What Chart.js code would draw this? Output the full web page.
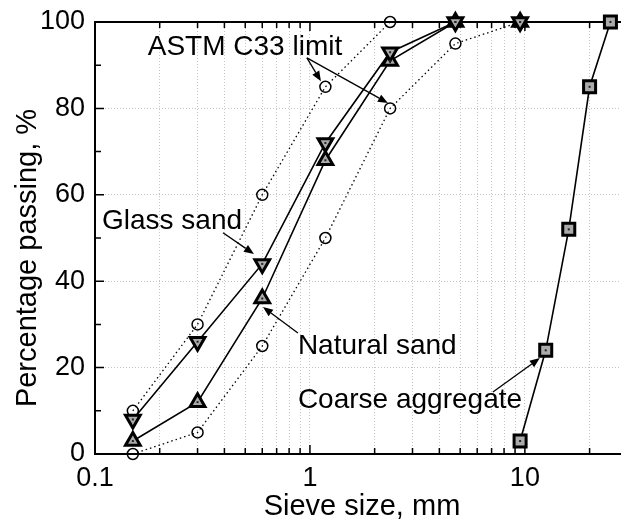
<!DOCTYPE html>
<html>
<head>
<meta charset="utf-8">
<script src="https://cdn.jsdelivr.net/npm/chart.js@4.4.1/dist/chart.umd.min.js"></script>
<style>
  html, body { margin: 0; padding: 0; background: #fff; }
  #wrap { width: 621px; height: 525px; }
</style>
</head>
<body>
<div id="wrap"><canvas id="gradingChart" width="621" height="525"></canvas></div>
<script>
// sieve sizes (mm) for the fine aggregates and the C33 envelope
const sieveSizes = [0.15, 0.3, 0.6, 1.18, 2.36, 4.75, 9.5];
const glassSand = [8, 26, 44, 72, 93, 100, 100];
const naturalSand = [3, 12, 36, 68, 91, 100, 100];
const astmUpper = [10, 30, 60, 85, 100, 100, 100];
const astmLower = [0, 5, 25, 50, 80, 95, 100];

// coarse aggregate grading
const coarseSizes = [9.5, 12.5, 16, 20, 25];
const coarseAggregate = [3, 24, 52, 85, 100];

// ticks: every minor step is marked, only decades / 20s are labelled
const xTicks = [0.1, 0.2, 0.3, 0.4, 0.5, 0.6, 0.7, 0.8, 0.9, 1, 2, 3, 4, 5, 6, 7, 8, 9, 10, 20];
const xTickLabels = ['0.1', '1', '10'];
const yTicks = [0, 10, 20, 30, 40, 50, 60, 70, 80, 90, 100];
const yTickLabels = ['0', '20', '40', '60', '80', '100'];

// callouts: text anchor and arrows (tail x, tail y, tip x, tip y) in data units
const notes = [
    { text: 'ASTM C33 limit', x: 0.176, y: 92.4, arrows: [[0.968, 91.7, 1.125, 86.3], [0.968, 91.7, 2.306, 81.25]] },
    { text: 'Glass sand', x: 0.1078, y: 52.1, arrows: [[0.394, 51.2, 0.549, 46.3]] },
    { text: 'Natural sand', x: 0.879, y: 23.1, arrows: [[0.879, 28.0, 0.6045, 34.0]] },
    { text: 'Coarse aggregate', x: 0.879, y: 10.6, arrows: [[7.1, 14.35, 11.74, 22.2]] },
];

const FONT = "'Liberation Sans', Arial, sans-serif";
const markerGrey = '#ababab';

function toPoints(xs, ys) {
    return xs.map((v, i) => ({ x: v, y: ys[i] }));
}

function arrow(ctx, x1, y1, x2, y2) {
    const ang = Math.atan2(y2 - y1, x2 - x1);
    const len = 10, half = 4;
    const bx = x2 - Math.cos(ang) * len, by = y2 - Math.sin(ang) * len;
    ctx.beginPath();
    ctx.moveTo(x1, y1);
    ctx.lineTo(bx, by);
    ctx.stroke();
    ctx.beginPath();
    ctx.moveTo(x2, y2);
    ctx.lineTo(bx + Math.sin(ang) * half, by - Math.cos(ang) * half);
    ctx.lineTo(bx - Math.sin(ang) * half, by + Math.cos(ang) * half);
    ctx.closePath();
    ctx.fill();
}

// frame line on top, inward tick marks, marker dots, callouts and axis titles
const frameAndNotes = {
    id: 'frameAndNotes',
    beforeDatasetsDraw(chart) {
        const { ctx, chartArea: a, scales: { x, y } } = chart;
        ctx.save();
        ctx.strokeStyle = '#000';
        ctx.lineWidth = 2;
        ctx.beginPath();
        ctx.moveTo(a.left, a.top);
        ctx.lineTo(a.right, a.top);
        ctx.stroke();

        ctx.lineWidth = 1.5;
        ctx.beginPath();
        xTicks.forEach(v => {
            const px = x.getPixelForValue(v);
            const len = xTickLabels.includes(String(v)) ? 9 : 6;
            ctx.moveTo(px, a.bottom);
            ctx.lineTo(px, a.bottom - len);
            ctx.moveTo(px, a.top);
            ctx.lineTo(px, a.top + len);
        });
        yTicks.forEach(v => {
            const py = y.getPixelForValue(v);
            const len = yTickLabels.includes(String(v)) ? 9 : 6;
            ctx.moveTo(a.left, py);
            ctx.lineTo(a.left + len, py);
        });
        ctx.stroke();
        ctx.restore();
    },
    afterDatasetsDraw(chart) {
        const { ctx, scales: { x, y } } = chart;
        ctx.save();

        // little dot in the middle of the filled markers
        chart.data.datasets.forEach((ds, i) => {
            if (!ds.centreDot) return;
            chart.getDatasetMeta(i).data.forEach(el => {
                ctx.fillStyle = '#222';
                ctx.fillRect(el.x - 1, el.y - 1, 2, 2);
            });
        });

        ctx.fillStyle = '#000';
        ctx.strokeStyle = '#000';
        ctx.lineWidth = 1.3;
        ctx.font = '28px ' + FONT;
        ctx.textAlign = 'left';
        ctx.textBaseline = 'alphabetic';
        notes.forEach(n => {
            ctx.fillText(n.text, x.getPixelForValue(n.x), y.getPixelForValue(n.y));
            n.arrows.forEach(ar => {
                arrow(ctx, x.getPixelForValue(ar[0]), y.getPixelForValue(ar[1]),
                    x.getPixelForValue(ar[2]), y.getPixelForValue(ar[3]));
            });
        });

        ctx.font = '29px ' + FONT;
        ctx.textAlign = 'center';
        ctx.fillText('Sieve size, mm', 362, 515);
        ctx.translate(36, 258);
        ctx.rotate(-Math.PI / 2);
        ctx.fillText('Percentage passing, %', 0, 0);
        ctx.restore();
    }
};

Chart.defaults.font.family = FONT;
Chart.defaults.color = '#000';

const ctx = document.getElementById('gradingChart').getContext('2d');
const gradingChart = new Chart(ctx, {
    type: 'line',
    data: {
        datasets: [
            {
                label: 'Coarse aggregate',
                data: toPoints(coarseSizes, coarseAggregate),
                borderColor: '#000',
                borderWidth: 1.6,
                pointStyle: 'rect',
                pointRadius: 8.5,
                pointBorderWidth: 3,
                pointBackgroundColor: markerGrey,
                pointBorderColor: '#000',
                centreDot: true,
                clip: false,
                order: 0,
            },
            {
                label: 'Glass sand',
                data: toPoints(sieveSizes, glassSand),
                borderColor: '#000',
                borderWidth: 1.6,
                pointStyle: 'triangle',
                pointRotation: 180,
                pointRadius: 8.5,
                pointBorderWidth: 3,
                pointBackgroundColor: markerGrey,
                pointBorderColor: '#000',
                centreDot: true,
                clip: false,
                order: 1,
            },
            {
                label: 'Natural sand',
                data: toPoints(sieveSizes, naturalSand),
                borderColor: '#000',
                borderWidth: 1.6,
                pointStyle: 'triangle',
                pointRadius: 8.5,
                pointBorderWidth: 3,
                pointBackgroundColor: markerGrey,
                pointBorderColor: '#000',
                centreDot: true,
                clip: false,
                order: 2,
            },
            {
                label: 'ASTM C33 upper',
                data: toPoints(sieveSizes, astmUpper),
                borderColor: '#000',
                borderWidth: 1.3,
                borderDash: [1.5, 3],
                pointStyle: 'circle',
                pointRadius: 5.5,
                pointBorderWidth: 1.5,
                pointBackgroundColor: 'rgba(0,0,0,0)',
                pointBorderColor: '#000',
                clip: false,
                order: 3,
            },
            {
                label: 'ASTM C33 lower',
                data: toPoints(sieveSizes, astmLower),
                borderColor: '#000',
                borderWidth: 1.3,
                borderDash: [1.5, 3],
                pointStyle: 'circle',
                pointRadius: 5.5,
                pointBorderWidth: 1.5,
                pointBackgroundColor: 'rgba(0,0,0,0)',
                pointBorderColor: '#000',
                clip: false,
                order: 4,
            },
        ],
    },
    options: {
        responsive: false,
        animation: false,
        events: [],
        layout: { autoPadding: false, padding: { top: 22, right: 0, left: 0, bottom: 0 } },
        plugins: {
            legend: { display: false },
            tooltip: { enabled: false },
            title: { display: false },
        },
        scales: {
            x: {
                type: 'logarithmic',
                min: 0.1,
                max: 28,
                afterBuildTicks: scale => {
                    scale.ticks = xTicks.map(v => ({ value: v }));
                },
                afterFit: scale => {
                    scale.height = 71;
                    scale.paddingLeft = 0;
                    scale.paddingRight = 0;
                },
                ticks: {
                    autoSkip: false,
                    maxRotation: 0,
                    padding: 8,
                    font: { size: 27 },
                    callback: v => (xTickLabels.includes(String(v)) ? String(v) : ''),
                },
                grid: {
                    color: '#c4c4c4',
                    lineWidth: 1,
                    drawTicks: false,
                },
                border: { display: true, color: '#000', width: 2, dash: [1, 2] },
            },
            y: {
                min: 0,
                max: 100,
                afterBuildTicks: scale => {
                    scale.ticks = yTicks.map(v => ({ value: v }));
                },
                afterFit: scale => {
                    scale.width = 95;
                    scale.paddingTop = 0;
                    scale.paddingBottom = 0;
                },
                ticks: {
                    autoSkip: false,
                    padding: 10,
                    font: { size: 27 },
                    callback: v => (yTickLabels.includes(String(v)) ? String(v) : ''),
                },
                grid: {
                    color: c => (c.tick && c.tick.value > 0 && c.tick.value < 100 && c.tick.value % 20 === 0) ? '#c4c4c4' : 'rgba(0,0,0,0)',
                    lineWidth: 1,
                    drawTicks: false,
                },
                border: { display: true, color: '#000', width: 2, dash: [1, 2] },
            },
        },
    },
    plugins: [frameAndNotes],
});
</script>
</body>
</html>
